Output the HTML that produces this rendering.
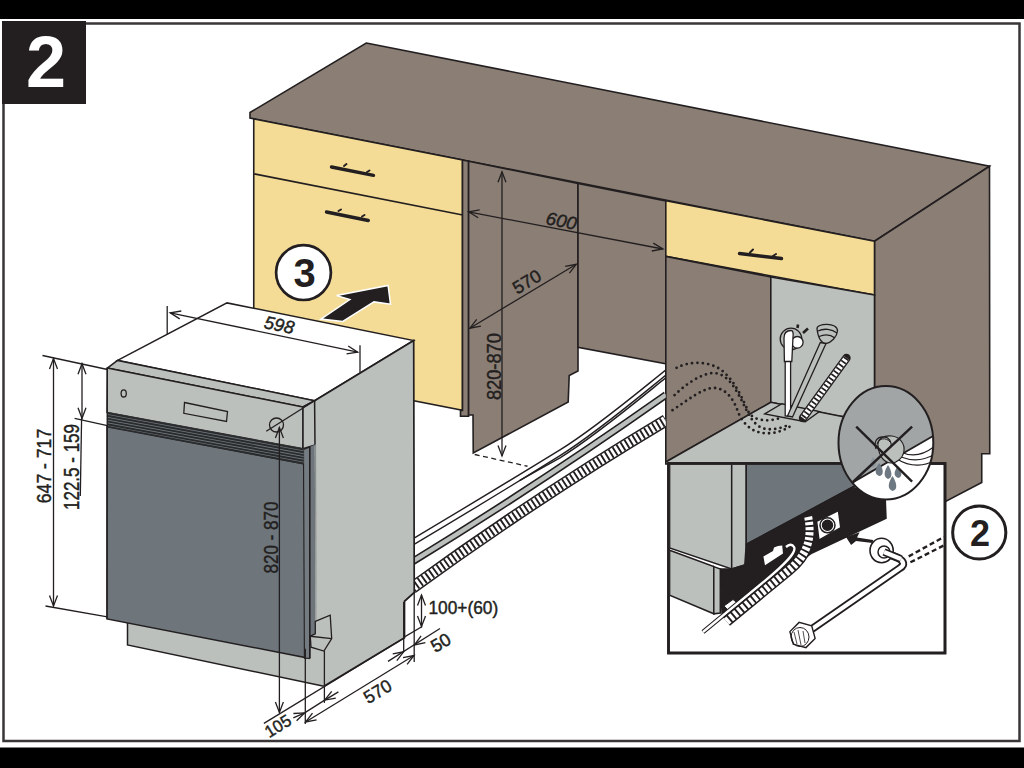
<!DOCTYPE html>
<html><head><meta charset="utf-8">
<style>
html,body{margin:0;padding:0;background:#fff;width:1024px;height:768px;overflow:hidden}
svg{display:block}
text{font-family:"Liberation Sans",sans-serif}
</style></head><body>
<svg width="1024" height="768" viewBox="0 0 1024 768">
<rect x="0" y="0" width="1024" height="768" fill="#fff"/>
<!-- frame -->
<rect x="0" y="0" width="1024" height="19" fill="#000"/>
<rect x="0" y="747.5" width="1024" height="21" fill="#000"/>
<rect x="3.5" y="23.5" width="1016" height="717.5" fill="none" stroke="#3a3637" stroke-width="2.5"/>
<rect x="2" y="21" width="84" height="83" fill="#231f20"/>
<text x="46" y="87" font-size="72" font-weight="bold" fill="#fff" text-anchor="middle">2</text>

<g stroke="#231f20" stroke-width="1.6" stroke-linejoin="miter">
<!-- countertop -->
<polygon points="366.25,43 989.5,166.25 874.5,241.25 250,118 250,112.5" fill="#8a7e75"/>
<!-- right side panel -->
<polygon points="874.5,241.25 989.5,166.25 989.75,453.75 981.75,453.75 981.75,482.5 946,501.25 874.5,501.25" fill="#8a7e75"/>
<!-- left cabinet yellow -->
<polygon points="253.75,119 462.5,160 462.5,410.4 253.75,369.5" fill="#f4dc96"/>
<line x1="254.2" y1="173.9" x2="462.7" y2="215"/>
<polygon points="462.5,160 468.6,161.3 468.6,416.3 460.5,416.3 460.5,410.2 462.5,410.4" fill="#8a7e75"/>
<!-- recess left partition -->
<polygon points="468.6,161.3 578,183.4 578,371 569.2,375.6 568.2,402 473.25,453 473,415 468.6,415" fill="#8a7e75"/>
<!-- back wall -->
<polygon points="578,183.4 665.8,201 665.8,363.7 578,347.3" fill="#8a7e75"/>
<!-- right cabinet drawer -->
<polygon points="665.8,200.7 874.5,241.25 874.5,295 665.8,256.4" fill="#f4dc96"/>
<!-- right cabinet inner left panel -->
<polygon points="665.8,256.4 770.8,277 770.8,402.3 665.8,462" fill="#8a7e75"/>
<!-- gray back wall -->
<polygon points="770.8,277 874.5,295 874.5,420 837.8,416 770.8,402.3" fill="#bbc0bc"/>
<!-- gray floor -->
<polygon points="665.8,462 770.8,402.3 874.5,423 874.5,464 665.8,464" fill="#bbc0bc"/>
</g>

<clipPath id="hc"><rect x="400" y="300" width="265.8" height="320"/></clipPath>
<g clip-path="url(#hc)">
<!-- HOSES on floor -->
<g fill="none" stroke="#231f20" stroke-width="1.4">
<path d="M412,539.3 Q486.0,495.3 560,449.9 C595,428.4 636,393.8 666,369.8"/>
<path d="M412,545.6 Q486.0,501.7 560,455.6 C595,433.8 636,399.4 666,375"/>
<path d="M520,480.4 Q540,468.8 560,457.8 C595,436.2 636,401.8 666,377.6"/>
</g>
<path d="M412,561.9 Q539.0,484.4 666,394.9" fill="none" stroke="#231f20" stroke-width="7.6"/>
<path d="M412,561.9 Q539.0,484.4 666,394.9" fill="none" stroke="#bbc0bc" stroke-width="4.4"/>
<!-- corrugated hose -->
<path d="M412,587.9 Q539.0,495.8 666,420.3" fill="none" stroke="#231f20" stroke-width="12.4"/>
<path d="M412,587.9 Q539.0,495.8 666,420.3" fill="none" stroke="#fff" stroke-width="9.4"/>
<path d="M412,587.9 Q539.0,495.8 666,420.3" fill="none" stroke="#231f20" stroke-width="9.6" stroke-dasharray="1.9 2.7"/>
</g>
<!-- DISHWASHER -->
<g stroke="#231f20" stroke-width="1.5" stroke-linejoin="miter">
<polygon points="117.6,360.4 227,302.9 413.7,340.5 314.6,400.7" fill="#fff"/>
<polygon points="314.6,400.7 413.7,340.5 414.25,592.5 404.5,601.25 404.5,637.8 323.9,686.3 316.9,684.8" fill="#bbc0bc" stroke="none"/>
<polyline points="314.6,400.7 413.7,340.5 414.25,592.5 404.5,601.25 404.5,637.8 323.9,686.3" fill="none" stroke-width="1.7"/>
<polygon points="107.3,368.1 117.6,360.4 314.6,400.7 303,407" fill="#bbc0bc"/>
<polygon points="107.3,368.1 303,407 303,448.75 107,412.5" fill="#bbc0bc"/>
<polygon points="303,407 314.6,400.7 315,445 303,448.75" fill="#bbc0bc"/>
<!-- plinth -->
<polygon points="127.5,620 309,640 325,640 323.9,686.3 127.5,645" fill="#bbc0bc" stroke="none"/><polyline points="127.5,620 127.5,645 323.9,686.3" fill="none"/>
<!-- door -->
<polygon points="107,426.25 303.75,463.75 309,658.3 107,618.9" fill="#6e767c"/>
<polygon points="303.5,449.5 309.8,447 309.8,658.3 304.4,658.3" fill="#747c82" stroke-width="1.1"/>
<polygon points="309.8,447 314.8,444.5 315.6,636 309.8,640" fill="#6e767c" stroke="none"/>
<line x1="309.8" y1="447" x2="309.8" y2="658.3" stroke-width="1.6"/>
<line x1="315.5" y1="444.5" x2="316" y2="625" stroke="#8a8e8d" stroke-width="1.2"/>
</g>
<polygon points="315.3,621.4 330.2,615.2 331.7,638.6 323.9,651.1 311,647.2 310.3,636.25 315.3,633.9" fill="#bbc0bc" stroke="#231f20" stroke-width="1.3"/>
<polyline points="310.3,636.25 331.7,638.6" fill="none" stroke="#231f20" stroke-width="1.3"/>
<!-- vent stripes -->
<polygon points="107,412.3 303.75,448.75 303.75,463.75 107,426.75" fill="#6e767c"/>
<g stroke="#2a2b2d" stroke-width="1.9">
<line x1="107" y1="413" x2="303.75" y2="449.5"/>
<line x1="107" y1="415.8" x2="303.75" y2="452.3"/>
<line x1="107" y1="418.6" x2="303.75" y2="455.1"/>
<line x1="107" y1="421.4" x2="303.75" y2="457.9"/>
<line x1="107" y1="424.2" x2="303.75" y2="460.7"/>
<line x1="107" y1="426.6" x2="303.75" y2="463.5"/>
</g>
<g fill="none" stroke="#231f20" stroke-width="1.3">
<line x1="107.3" y1="368.1" x2="107" y2="618.9"/>
<ellipse cx="123.7" cy="393.4" rx="2.6" ry="3.6"/>
<polygon points="184.5,402.5 227.5,411.5 226.5,421.5 183.8,413.3"/>
<circle cx="276.5" cy="425" r="7"/>
</g>

<!-- cabinet interior items -->
<g stroke="#231f20" stroke-width="1.3" fill="#bbc0bc">
<polygon points="764.7,413.9 781.9,403.75 819.4,411.6 805.3,421.7"/>
</g>
<g fill="none" stroke="#231f20" stroke-width="2.8" stroke-linecap="round" stroke-dasharray="0 5.4">
<path d="M676.6,367.8 C688,362 705,360 720,369 C735,380 743,400 749,413 C755,421 768,422 780,418"/>
<path d="M674.6,395.1 C685,385 700,374 713,373 C728,373 736,390 742,401 C748,414 753,424 762,428 C771,431 782,428 788,425"/>
<path d="M672.5,410.2 C688,400 700,390 712,388 C726,387 734,400 738,412 C742,422 750,430 758,432 C768,435 782,433 793.5,424"/>
</g>
<!-- plug -->
<g stroke="#231f20" stroke-width="1.3">
<rect x="785.2" y="361" width="5.4" height="55" fill="#fff"/>
<circle cx="791" cy="339" r="10.8" fill="#bbc0bc"/>
<circle cx="797.3" cy="342.3" r="5.8" fill="#fff"/>
<path d="M784.4,361.5 L784,338 C784,332 787,330.5 791,330.5 C793,330.5 793.5,333 793,337 L791.8,361.5 Z" fill="#fff"/>
<line x1="797.5" y1="328" x2="798" y2="324.5" stroke-width="2.6"/>
<line x1="803" y1="333" x2="808" y2="328.5" stroke-width="2.6"/>
</g>
<!-- spray arm stick -->
<g stroke="#231f20" stroke-width="1.3" fill="#bbc0bc">
<polygon points="820.3,342.5 826,343.5 792.5,417 787.5,416"/>
<path d="M817,329 C816,323 838,322 837.5,331 C837,337 831,343 826,343.5 C821,343 818,337 817,329 Z"/>
<path d="M818,331 C824,328 832,329 837,333 M819,336.5 C825,334 831,335 835,338" fill="none"/>
</g>
<!-- corrugated in cabinet -->
<path d="M846.5,358 L803,418" fill="none" stroke="#231f20" stroke-width="8.4" stroke-linecap="round"/>
<path d="M846.5,358 L803,418" fill="none" stroke="#fff" stroke-width="5.6"/>
<path d="M846.5,358 L803,418" fill="none" stroke="#231f20" stroke-width="5.8" stroke-dasharray="1.7 2.5"/>
<!-- right side panel lower steps (over) + inset -->
<rect x="668.5" y="463.5" width="276.5" height="189.5" fill="#fff" stroke="#231f20" stroke-width="2.6"/>
<clipPath id="ins"><rect x="669.8" y="464.8" width="274" height="187"/></clipPath>
<g clip-path="url(#ins)" stroke="#231f20" stroke-width="1.5">
<!-- upper left panel -->
<polygon points="669.6,463.5 731.7,463.5 731.7,569 669.6,547.9" fill="#bbc0bc"/>
<polygon points="731.7,463.5 746.25,463.5 746.25,563 744.8,565 731.7,569" fill="#bbc0bc"/>
<!-- door -->
<polygon points="746.25,463.5 900,463.5 852.5,487.2 746.25,544.3" fill="#6e767c"/>
<!-- black base -->
<polygon points="720.3,569 731.7,569 744.8,565 746.25,544.3 852.5,487.2 885.3,500.3 886,518.3 812,553 760,590 722,613" fill="#231f20"/>
<!-- lower block -->
<polygon points="669.6,550.3 713.8,566.6 713.8,613.8 669.6,595.1" fill="#bbc0bc"/>
<polygon points="713.8,566.6 720.3,569 720.3,613 713.8,613.8" fill="#bbc0bc"/>
<!-- connector -->
<polygon points="816.6,521.4 838.4,510.5 840.8,527.7 818.9,540.2" fill="#fff"/>
<circle cx="827.5" cy="525.3" r="7.5" fill="#fff"/>
<circle cx="827.5" cy="525.3" r="5" fill="#231f20"/>
<!-- socket -->
<polygon points="763.4,556.6 773,551 774,547.5 778,546 782.2,545.6 783,553.4 765,565.2" fill="#fff" stroke="none"/>
<!-- white cable -->
<polygon points="724,606 733,599.5 737.5,603 728.5,610.5" fill="#fff" stroke="#231f20" stroke-width="1"/>
<path d="M703,632 L766,580 C785,564 797,552 794,547 C792,543.5 789,544.5 786,547" fill="none" stroke="#231f20" stroke-width="4.6"/>
<path d="M703,632 L766,580 C785,564 797,552 794,547 C792,543.5 789,544.5 786,547" fill="none" stroke="#fff" stroke-width="2.4"/>
<!-- corrugated -->
<path d="M726.5,621.5 L789,570 C806,556 813,540 808,516" fill="none" stroke="#231f20" stroke-width="11"/>
<path d="M726.5,621.5 L789,570 C806,556 813,540 808,516" fill="none" stroke="#fff" stroke-width="8" stroke-dasharray="3.2 1.9"/>
<!-- inlet arrow -->
<polygon points="846,536.9 859.6,532.2 857,537.5 873.1,540 872.5,543 856,541 851.1,545" fill="#231f20" stroke="none"/>
<!-- inlet hose -->
<path d="M881.6,551.3 L898,558 C904,561 905,565 900,568 L810.5,630" fill="none" stroke="#231f20" stroke-width="8"/>
<path d="M881.6,551.3 L898,558 C904,561 905,565 900,568 L810.5,630" fill="none" stroke="#fff" stroke-width="4.2"/>
<ellipse cx="881.6" cy="550.5" rx="11.6" ry="12.2" fill="#fff" stroke-width="1.6"/>
<ellipse cx="884" cy="552" rx="6" ry="6" fill="#fff"/>
<path d="M884,552 L901,559" stroke="#231f20" stroke-width="7.5" fill="none"/>
<path d="M884,552 L901,559" stroke="#fff" stroke-width="4.3" fill="none"/>
<polygon points="815.1,638.4 805.9,647.6 793.3,644.2 789.9,631.6 799.1,622.4 811.7,625.8" fill="#fff" stroke-width="1.4"/>
<ellipse cx="800" cy="637" rx="9" ry="9.5" fill="none" stroke-width="1"/>
<path d="M794,632 L797,644 M798,630 L801,645 M803,631 L805,643 M791,637 L794,645" stroke-width="0.8"/>
<!-- dashed -->
<g stroke-width="2.4" stroke-dasharray="5 3" fill="none">
<line x1="908.7" y1="556.4" x2="944" y2="536.9"/>
<line x1="910.4" y1="562.3" x2="944" y2="545.4"/>
</g>
</g>
<rect x="668.5" y="463.5" width="276.5" height="189.5" fill="none" stroke="#231f20" stroke-width="2.6"/>

<!-- magnifier -->
<clipPath id="mag"><ellipse cx="885.9" cy="442.7" rx="47.4" ry="56.7"/></clipPath>
<g clip-path="url(#mag)">
<rect x="830" y="380" width="110" height="125" fill="#a1a5a6"/>
<polygon points="830,495.5 940,432 940,505 830,505" fill="#fff"/>
<line x1="830" y1="495.5" x2="940" y2="432" stroke="#231f20" stroke-width="1.8"/>
<g fill="none" stroke="#231f20" stroke-width="1.2">
<path d="M901,452 C913,458 925,454 935,446"/>
<path d="M901,457 C914,462 925,460 935,454"/>
<path d="M897,459 C911,468 926,466 935,460"/>
</g>
<path d="M878,446 C877,438 885,435 892,436 C900,437 905,444 904,451 C903,458 897,463 891,463 C885,463 879,457 878,446 Z" fill="#bbc0bc" stroke="#231f20" stroke-width="1.2"/>
<path d="M876,449 C873,441 878,436 884,437 C889,437 892,442 891,447" fill="none" stroke="#231f20" stroke-width="1.2"/>
<path d="M877,444 C879,438 886,437 890,442" fill="none" stroke="#231f20" stroke-width="1"/>
<g fill="#6d7882">
<path d="M879,463 C875,469 874,474 879,476 C884,476 884,469 879,463 Z"/>
<path d="M888,465 C884,471 883,477 888,479 C893,478 892,471 888,465 Z"/>
<path d="M898,466 C894,471 893,476 898,478 C903,477 902,471 898,466 Z"/>
<path d="M892.5,476 C888,483 887,489 892.5,491 C898,490 897,483 892.5,476 Z"/>
<path d="M873,457 C870,462 869,466 873,467.5 C877,467 877,462 873,457 Z" fill="#8c959c"/>
</g>
<g stroke="#231f20" stroke-width="2.4">
<line x1="856.2" y1="426.6" x2="912.1" y2="481.6"/>
<line x1="912.1" y1="426.6" x2="853" y2="482"/>
</g>
</g>
<ellipse cx="885.9" cy="442.7" rx="47.4" ry="56.7" fill="none" stroke="#231f20" stroke-width="2"/>

<!-- handles -->
<g stroke="#231f20" stroke-linecap="round" fill="none">
<path d="M331.5,167 L373.5,175.3" stroke-width="3.4"/>
<path d="M344,166 L346.5,164" stroke-width="2"/>
<path d="M367,172 L369.5,170.5" stroke-width="2"/>
<path d="M326.5,212 L368.3,220.5" stroke-width="3.4"/>
<path d="M338.5,211 L341,209.5" stroke-width="2"/>
<path d="M362,216.5 L364.5,215" stroke-width="2"/>
<path d="M739.5,253.5 L781.5,258.5" stroke-width="3.4"/>
<path d="M750,252.5 L753,249.5" stroke-width="2"/>
<path d="M773,256 L776,254" stroke-width="2"/>
</g>
<!-- circled 3 and arrow -->
<circle cx="303.5" cy="272.6" r="27.4" fill="#fff" stroke="#231f20" stroke-width="2.7"/>
<text x="304.5" y="286.6" font-size="40" font-weight="bold" fill="#231f20" text-anchor="middle">3</text>
<polygon points="320.9,319.1 349.8,299.5 336.6,295.6 388.1,285.5 390.5,304.2 374,301.9 342.8,321.4" fill="#231f20" stroke="#fff" stroke-width="1.5"/>

<!-- circled 2 -->
<circle cx="979.25" cy="532.5" r="26.6" fill="#fff" stroke="#231f20" stroke-width="3"/>
<text x="980" y="545.7" font-size="36" font-weight="bold" fill="#231f20" text-anchor="middle">2</text>
<g fill="none" stroke="#231f20" stroke-width="1.3">
<line x1="167.2" y1="306" x2="167.2" y2="334"/>
<line x1="360" y1="345.3" x2="360" y2="372.6"/>
<line x1="170.2" y1="312.8" x2="357.7" y2="352.1"/><path d="M346.6,353.9 L357.7,352.1 L348.2,346.0"/><path d="M181.3,311.0 L170.2,312.8 L179.7,318.9"/>
<line x1="468.6" y1="211.9" x2="662.9" y2="249"/><path d="M651.8,251.0 L662.9,249.0 L653.3,243.1"/><path d="M479.7,209.9 L468.6,211.9 L478.2,217.8"/>
<line x1="469.8" y1="328.2" x2="576.3" y2="264.3"/><path d="M569.4,273.1 L576.3,264.3 L565.2,266.3"/><path d="M476.7,319.4 L469.8,328.2 L480.9,326.2"/>
<line x1="502" y1="456" x2="502" y2="171.8"/><path d="M506.0,182.3 L502.0,171.8 L498.0,182.3"/><path d="M498.0,445.5 L502.0,456.0 L506.0,445.5"/>
<line x1="474.7" y1="454.5" x2="527.5" y2="466.25" stroke-dasharray="5 3.5"/>
<line x1="42.5" y1="355.5" x2="107.5" y2="369.5"/>
<line x1="45.5" y1="606" x2="107.4" y2="616.9"/>
<line x1="53.5" y1="358.5" x2="53.5" y2="606"/><path d="M49.5,595.5 L53.5,606.0 L57.5,595.5"/><path d="M57.5,369.0 L53.5,358.5 L49.5,369.0"/>
<line x1="74.6" y1="418.3" x2="107.4" y2="425.6"/>
<line x1="82" y1="363.7" x2="82" y2="418.3"/><path d="M78.0,407.8 L82.0,418.3 L86.0,407.8"/><path d="M86.0,374.2 L82.0,363.7 L78.0,374.2"/>
<line x1="81.6" y1="418" x2="80.3" y2="496"/>
<line x1="266.25" y1="431.25" x2="314.6" y2="400.7"/>
<line x1="279.4" y1="427.5" x2="279.4" y2="712.4"/><path d="M275.4,701.9 L279.4,712.4 L283.4,701.9"/><path d="M283.4,438.0 L279.4,427.5 L275.4,438.0"/>
<line x1="263.9" y1="723.4" x2="404.5" y2="637.8"/>
<line x1="403.7" y1="637.4" x2="422.2" y2="626.5"/>
<line x1="305.3" y1="648.75" x2="305.3" y2="724"/>
<line x1="324.4" y1="651" x2="324.4" y2="702.9"/>
<line x1="403.7" y1="601.9" x2="403.7" y2="651.8"/>
<line x1="414.2" y1="592" x2="414.2" y2="662"/>
<line x1="293.3" y1="717.9" x2="304.6" y2="712.9"/><path d="M296.6,720.8 L304.6,712.9 L293.4,713.5"/>
<line x1="338.4" y1="691.9" x2="324.7" y2="700.1"/><path d="M331.7,691.3 L324.7,700.1 L335.8,698.1"/>
<line x1="304.6" y1="712.9" x2="324.7" y2="700.1"/>
<line x1="305.6" y1="722" x2="414" y2="655.5"/><path d="M407.1,664.4 L414.0,655.5 L403.0,657.6"/><path d="M312.5,713.1 L305.6,722.0 L316.6,719.9"/>
<line x1="388" y1="661.4" x2="440" y2="628.5"/>
<path d="M396.8,660.7 L403.7,651.8 L392.7,653.9"/>
<path d="M421.1,635.9 L414.4,645.0 L425.4,642.7"/>
<line x1="421.5" y1="595" x2="421.5" y2="626.5"/><path d="M417.5,616.0 L421.5,626.5 L425.5,616.0"/><path d="M425.5,605.5 L421.5,595.0 L417.5,605.5"/>
</g>

<g fill="#231f20" stroke="#231f20" stroke-width="0.45" font-family="Liberation Sans, sans-serif">
<text transform="translate(278,331) rotate(11.8)" font-size="18" font-style="italic" text-anchor="middle" textLength="30" lengthAdjust="spacingAndGlyphs">598</text>
<text transform="translate(560.2,227) rotate(10.8)" font-size="18" font-style="italic" text-anchor="middle" textLength="31" lengthAdjust="spacingAndGlyphs">600</text>
<text transform="translate(530,287) rotate(-31)" font-size="18" text-anchor="middle" textLength="30" lengthAdjust="spacingAndGlyphs">570</text>
<text transform="translate(501,366.6) rotate(-90)" font-size="20" text-anchor="middle" textLength="67" lengthAdjust="spacingAndGlyphs">820-870</text>
<text transform="translate(51,466) rotate(-90)" font-size="21" text-anchor="middle" textLength="74.4" lengthAdjust="spacingAndGlyphs">647 - 717</text>
<text transform="translate(78.7,467) rotate(-90)" font-size="22" text-anchor="middle" textLength="86" lengthAdjust="spacingAndGlyphs">122.5 - 159</text>
<text transform="translate(277.5,537.5) rotate(-90)" font-size="21" text-anchor="middle" textLength="72" lengthAdjust="spacingAndGlyphs">820 - 870</text>
<text transform="translate(281,731) rotate(-32)" font-size="17" text-anchor="middle" textLength="27.5" lengthAdjust="spacingAndGlyphs">105</text>
<text transform="translate(380.8,696.8) rotate(-31)" font-size="18" text-anchor="middle" textLength="29" lengthAdjust="spacingAndGlyphs">570</text>
<text transform="translate(443.8,648) rotate(-30)" font-size="18" text-anchor="middle" textLength="20" lengthAdjust="spacingAndGlyphs">50</text>
<text x="428.5" y="614" font-size="19" textLength="69.7" lengthAdjust="spacingAndGlyphs">100+(60)</text>
</g>
</svg>
</body></html>
